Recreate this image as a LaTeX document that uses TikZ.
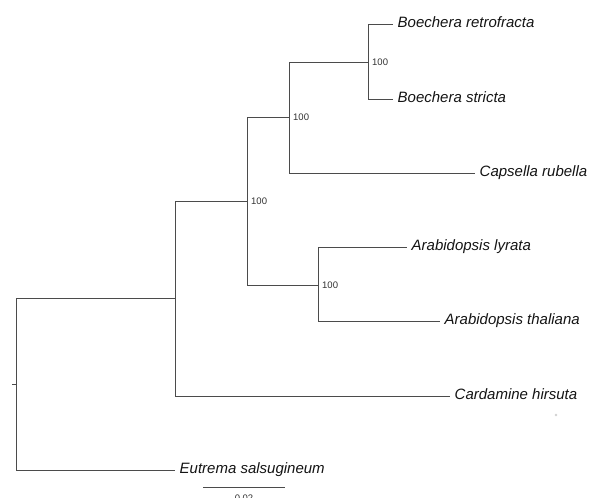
\documentclass[tikz,border=0pt]{standalone}
\usepackage{fontspec}
\setmainfont{Liberation Sans}
\usepackage{xcolor}
\usetikzlibrary{calc}
\definecolor{brgray}{RGB}{75,75,75}
\definecolor{bootgray}{RGB}{50,50,50}

\begin{document}
\begin{tikzpicture}[x=1pt,y=-1pt,
    branch/.style={draw=brgray,line width=1pt},
    taxon/.style={anchor=mid west,inner xsep=4.5pt,inner ysep=0pt,
        font=\fontsize{15}{18}\selectfont\itshape,text=black!92},
    boot/.style={anchor=mid west,inner sep=0pt,xshift=3.5pt,
        font=\fontsize{9.5}{11}\selectfont,text=bootgray}]
    \useasboundingbox (0,0) rectangle (592,498);

    % internal nodes
    \coordinate (R) at (16.5,384.5);
    \coordinate (N1) at (175.5,298.5);
    \coordinate (N2) at (247.5,201.5);
    \coordinate (N3) at (289.5,117.5);
    \coordinate (N4) at (368.5,62.5);
    \coordinate (N5) at (318.5,285.5);

    % tips
    \node[taxon] (bret) at (393,24.5) {Boechera retrofracta};
    \node[taxon] (bstr) at (393,99.5) {Boechera stricta};
    \node[taxon] (caps) at (475,173.5) {Capsella rubella};
    \node[taxon] (alyr) at (407,247.5) {Arabidopsis lyrata};
    \node[taxon] (atha) at (440,321.5) {Arabidopsis thaliana};
    \node[taxon] (card) at (450,396.5) {Cardamine hirsuta};
    \node[taxon] (eutr) at (175,470.5) {Eutrema salsugineum};

    % branches
    \draw[branch] (R) -- ++(-5,0);
    \draw[branch] (R) |- (N1);
    \draw[branch] (R) |- (eutr.mid west);
    \draw[branch] (N1) |- (N2);
    \draw[branch] (N1) |- (card.mid west);
    \draw[branch] (N2) |- (N3);
    \draw[branch] (N2) |- (N5);
    \draw[branch] (N3) |- (N4);
    \draw[branch] (N3) |- (caps.mid west);
    \draw[branch] (N4) |- (bret.mid west);
    \draw[branch] (N4) |- (bstr.mid west);
    \draw[branch] (N5) |- (alyr.mid west);
    \draw[branch] (N5) |- (atha.mid west);

    % support values
    \node[boot] (b2) at (N2) {100};
    \node[boot] (b3) at (N3) {100};
    \node[boot] (b4) at (N4) {100};
    \node[boot] (b5) at (N5) {100};

    % scale bar
    \coordinate (s1) at (203,487.5);
    \coordinate (s2) at (285,487.5);
    \draw[branch] (s1) -- (s2);
    \node[anchor=base,inner sep=0pt,font=\fontsize{9.5}{11}\selectfont,text=bootgray]
        (sl) at ($(s1)!0.5!(s2)+(0,14)$) {0.02};

    \fill[black!18] (556,415) circle (1.3);
\end{tikzpicture}
\end{document}
